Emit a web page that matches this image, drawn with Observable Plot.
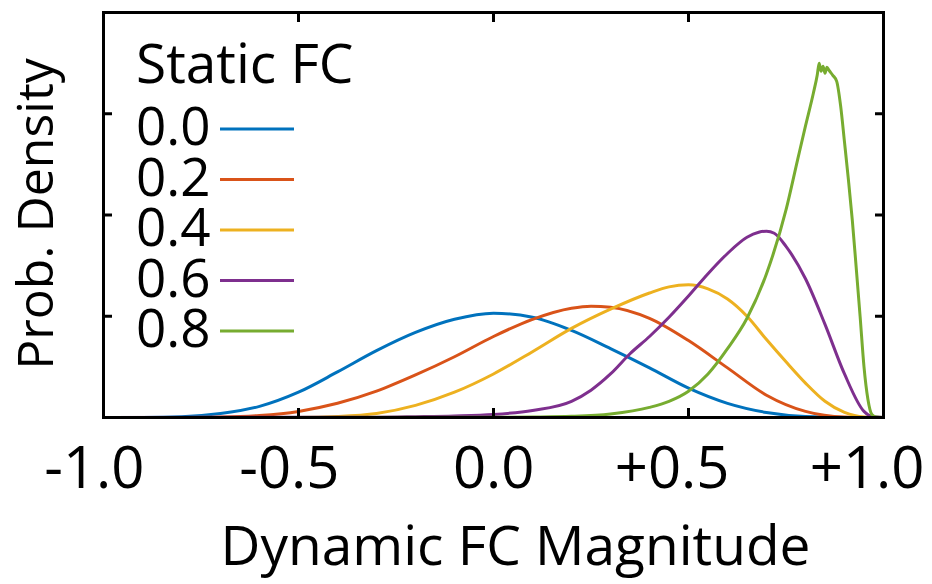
<!DOCTYPE html>
<html>
<head>
<meta charset="utf-8">
<script src="https://cdn.jsdelivr.net/npm/d3@7"></script>
<script src="https://cdn.jsdelivr.net/npm/@observablehq/plot@0.6"></script>
<style>
  html, body { margin: 0; padding: 0; background: #fff; }
  #wrap { position: relative; width: 932px; height: 584px; font-family: "Open Sans", sans-serif; }
  #legend { position: absolute; left: 0; top: 0; pointer-events: none; }
</style>
</head>
<body>
<div id="wrap"></div>
<script>
// ---- data ----
const seriesNames = ["0.0", "0.2", "0.4", "0.6", "0.8"];
const seriesColors = ["#0072BD", "#D95319", "#EDB120", "#7E2F8E", "#77AC30"];

const blueX = [-1,-0.9,-0.8,-0.7,-0.6,-0.5,-0.4,-0.3,-0.2,-0.1,0,0.1,0.2,0.3,0.4,0.5,0.6,0.7,0.8,0.9,1];
const blueY = [0,0.001,0.008,0.04,0.11,0.25,0.45,0.66,0.84,0.97,1.03,0.99,0.86,0.68,0.49,0.29,0.14,0.05,0.01,0.001,0];

const orangeX = [-1,-0.8,-0.7,-0.6,-0.5,-0.4,-0.3,-0.2,-0.1,0,0.1,0.2,0.25,0.3,0.4,0.5,0.6,0.7,0.8,0.9,1];
const orangeY = [0,0.001,0.005,0.02,0.06,0.14,0.26,0.42,0.6,0.8,0.97,1.08,1.10,1.09,0.98,0.76,0.49,0.22,0.06,0.005,0];

const yellowX = [-1,-0.5,-0.4,-0.3,-0.2,-0.1,0,0.1,0.2,0.3,0.4,0.45,0.5,0.55,0.6,0.65,0.7,0.75,0.8,0.85,0.9,0.95,1];
const yellowY = [0,0.001,0.01,0.04,0.12,0.25,0.43,0.65,0.88,1.07,1.23,1.29,1.31,1.27,1.17,1.0,0.77,0.55,0.34,0.16,0.05,0.005,0];

const purpleX = [-1,-0.3,-0.2,-0.1,0,0.1,0.2,0.25,0.3,0.35,0.4,0.45,0.5,0.55,0.6,0.65,0.68,0.7,0.72,0.75,0.8,0.85,0.9,0.95,0.97,1];
const purpleY = [0,0.003,0.008,0.015,0.03,0.07,0.16,0.27,0.43,0.63,0.8,0.99,1.2,1.42,1.62,1.78,1.83,1.84,1.82,1.69,1.37,0.92,0.43,0.06,0.01,0];

const greenX = [-1,0,0.1,0.2,0.3,0.4,0.45,0.5,0.55,0.6,0.65,0.7,0.75,0.78,0.8,0.82,0.83,0.835,0.84,0.845,0.85,0.855,0.86,0.87,0.88,0.89,0.9,0.91,0.92,0.93,0.94,0.95,0.96,0.97,0.98,1];
const greenY = [0,0.002,0.005,0.012,0.035,0.1,0.16,0.26,0.43,0.68,0.98,1.42,2.05,2.55,2.88,3.2,3.38,3.50,3.42,3.47,3.40,3.46,3.43,3.38,3.32,3.08,2.72,2.35,1.95,1.48,1.0,0.5,0.18,0.03,0.005,0];

const xTickVals = [-1, -0.5, 0, 0.5, 1];
const xTickLabels = ["-1.0", "-0.5", "0.0", "+0.5", "+1.0"];
const xTickMarks = [-0.5, 0, 0.5];
const yTickMarks = [1, 2, 3];
const xLabel = "Dynamic FC Magnitude";
const yLabel = "Prob. Density";
const legendTitle = "Static FC";

// ---- build tidy table ----
const xs = [blueX, orangeX, yellowX, purpleX, greenX];
const ys = [blueY, orangeY, yellowY, purpleY, greenY];
const rows = [];
seriesNames.forEach((name, s) => {
  xs[s].forEach((x, i) => rows.push({series: name, x, y: ys[s][i]}));
});

const FONT = "Open Sans";

const chart = Plot.plot({
  width: 932,
  height: 584,
  marginLeft: 103,
  marginRight: 49,
  marginTop: 12,
  marginBottom: 167,
  style: {fontFamily: FONT, background: "#fff", overflow: "visible"},
  x: {domain: [-1, 1]},
  y: {domain: [0, 4]},
  color: {domain: seriesNames, range: seriesColors},
  marks: [
    Plot.line(rows, {x: "x", y: "y", z: "series", stroke: "series", strokeWidth: 3, curve: "monotone-x"}),
    Plot.frame({stroke: "#000", strokeWidth: 3}),
    Plot.axisX({anchor: "bottom", ticks: xTickMarks, tickSize: -9, tickFormat: () => "", strokeWidth: 3, label: null}),
    Plot.axisX({anchor: "top", ticks: xTickMarks, tickSize: -9, tickFormat: () => "", strokeWidth: 3, label: null}),
    Plot.axisY({anchor: "left", ticks: yTickMarks, tickSize: -9, tickFormat: () => "", strokeWidth: 3, label: null}),
    Plot.axisY({anchor: "right", ticks: yTickMarks, tickSize: -9, tickFormat: () => "", strokeWidth: 3, label: null}),
    Plot.text(xTickVals, {x: d => d, frameAnchor: "bottom", text: (d, i) => xTickLabels[i],
      textAnchor: "end", lineAnchor: "bottom", dx: 41, dy: 70, fontSize: 58, fill: "#000"}),
    Plot.text([xLabel], {frameAnchor: "bottom", text: d => d, textAnchor: "middle", lineAnchor: "bottom",
      dx: 22, dy: 147, fontSize: 55, fill: "#000"}),
    Plot.text([yLabel], {frameAnchor: "left", text: d => d, textAnchor: "middle", rotate: -90, lineAnchor: "bottom",
      dx: -51, dy: -1, fontSize: 50, fill: "#000"})
  ]
});

const wrap = document.getElementById("wrap");
wrap.appendChild(chart);

// ---- legend overlay ----
const lg = d3.select(wrap).append("svg")
  .attr("id", "legend")
  .attr("width", 932).attr("height", 584)
  .style("font-family", FONT);

lg.append("text")
  .attr("x", 136).attr("y", 83)
  .attr("font-size", 55)
  .attr("fill", "#000")
  .text(legendTitle);

seriesNames.forEach((name, i) => {
  const base = 145 + i * 50.5;
  lg.append("text")
    .attr("x", 136).attr("y", base)
    .attr("font-size", 53)
    .attr("fill", "#000")
    .text(name);
  lg.append("line")
    .attr("x1", 220).attr("x2", 294)
    .attr("y1", base - 16).attr("y2", base - 16)
    .attr("stroke", seriesColors[i])
    .attr("stroke-width", 3);
});
</script>
</body>
</html>
